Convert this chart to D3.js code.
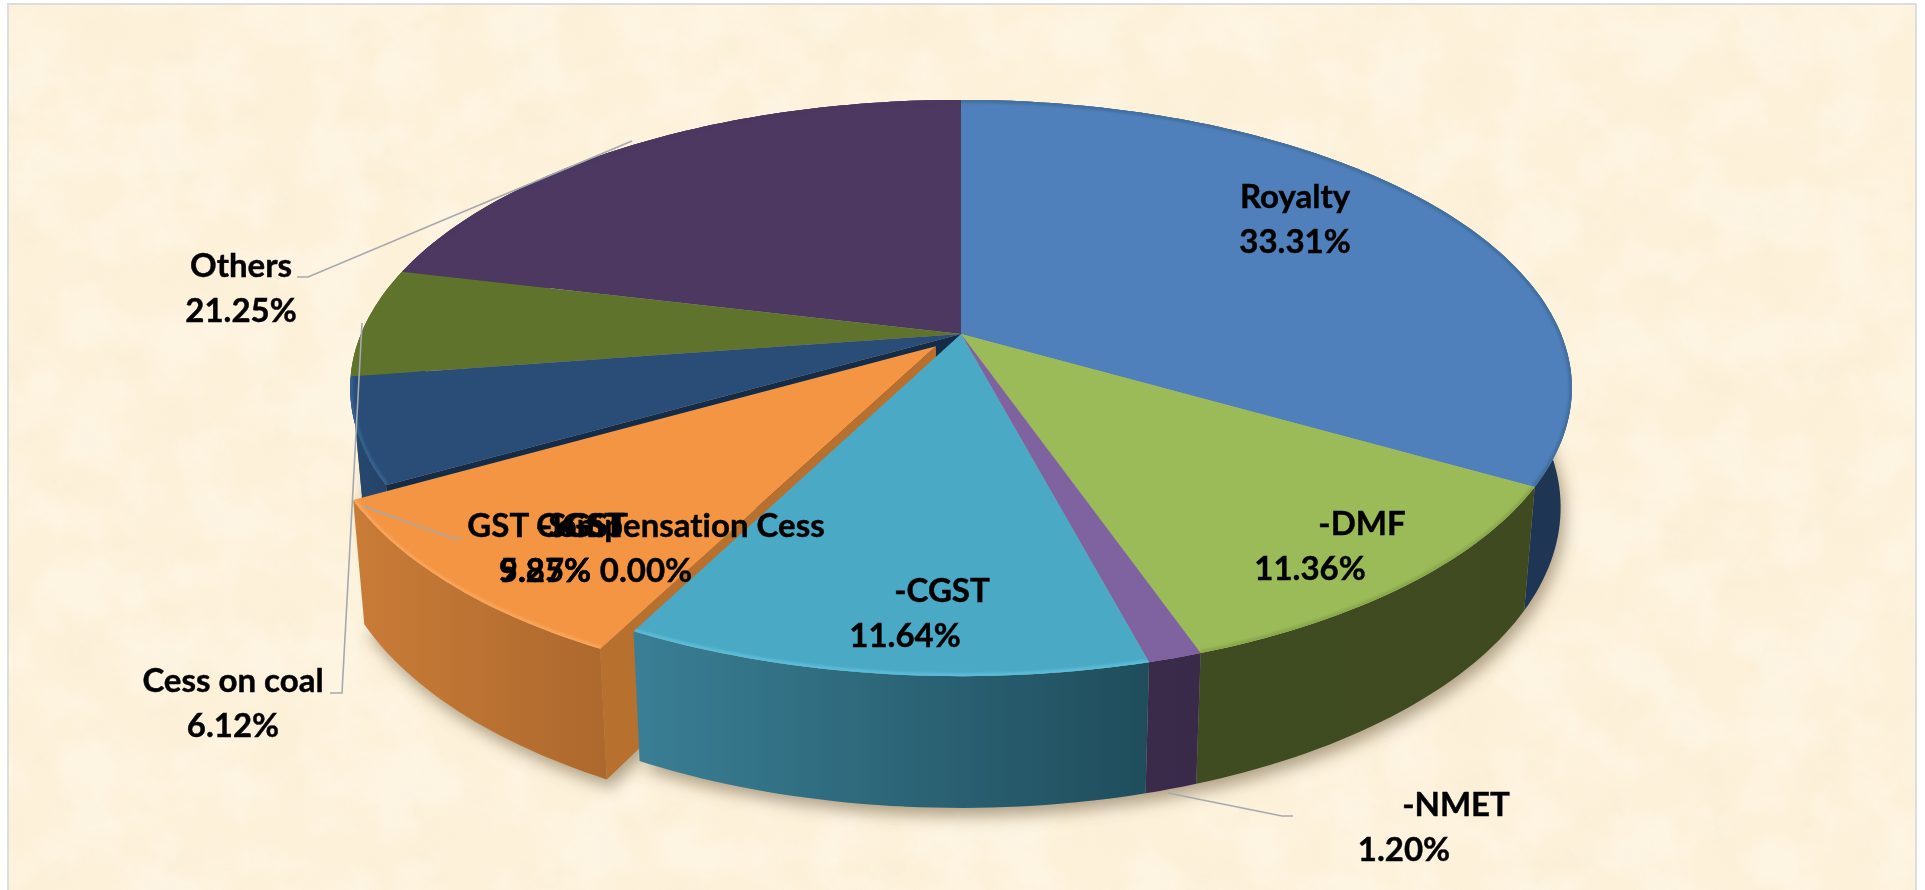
<!DOCTYPE html>
<html><head><meta charset="utf-8">
<script src="https://cdn.jsdelivr.net/npm/d3@7"></script>
<style>html,body{margin:0;padding:0;background:#fff;overflow:hidden}svg{display:block}
text{font-family:Lato,"Open Sans",sans-serif;font-weight:700;fill:#000;stroke:#000;stroke-width:.45px;text-anchor:middle;font-variant-ligatures:none;font-kerning:normal}</style>
</head><body><svg id="c" width="1925" height="890"></svg>
<script>
const categories=["Royalty","-DMF","-NMET","-CGST","-SGST","GST Compensation Cess","-IGST","Cess on coal","Others"];
const shares=[33.31,11.36,1.20,11.64,9.27,0.00,5.85,6.12,21.25];
const shareLabels=["33.31%","11.36%","1.20%","11.64%","9.27%","0.00%","5.85%","6.12%","21.25%"];
const topColors=["#4f80bb","#9bbb59","#7f62a0","#4aa9c4","#f39543","#f39543","#2a4d77","#60732d","#4c3860"];
const wallLeft=["#1f3757","#3f4b21","#3a2b4b","#3a7f95","#c97c37","#c97c37","#27486f","#566829","#3a2b4b"];
const wallRight=["#1e3553","#3f4a20","#392a49","#1f4d5c","#ad682d","#ad682d","#244268","#566829","#3a2b4b"];
const rimColors=["#426f9f","#8aa84c","#7f62a0","#5cbcd8","#f9a45a","#f9a45a","#34608f","#60732d","#4c3860"];
const explode=[0,0,0,0,0.06,0.06,0,0,0];
const paintOrder=[8,7,6,4,0,1,2,3];
const labelCentersX=[1295,1362,1456,942,582,646,582,233,241];
const labelCentersXPct=[1295,1310,1404,905,545,646,545,233,241];
const labelBaselines=[208,535,816,602,537,537,537,692,277];
const labelGap=45;
const leaders=[
 [[1168,793],[1282,816],[1293,816]],
 [[363,506],[452,538],[462,538]],
 [[330,693],[342,693],[362,323]],
 [[297,277],[308,277],[632,141]]
];
const topDisk={x0:961,y0:334,ax:600,ay:278,b:-0.1875};
const baseDisk={x0:961,y0:451,ax:589,ay:290,b:-0.1875};
const TAU=2*Math.PI;
const svg=d3.select("#c");
const defs=svg.append("defs");
function noise(id,freq,seed,matrix){const f=defs.append("filter").attr("id",id).attr("x",0).attr("y",0).attr("width","100%").attr("height","100%");
 f.append("feTurbulence").attr("type","fractalNoise").attr("baseFrequency",freq).attr("numOctaves",4).attr("seed",seed);
 f.append("feColorMatrix").attr("values",matrix);}
noise("tex","0.02",7,"0 0 0 0 0.95  0 0 0 0 0.86  0 0 0 0 0.64  3.4 0 0 0 -1.45");
noise("tex2","0.016",23,"0 0 0 0 1  0 0 0 0 0.98  0 0 0 0 0.93  3.4 0 0 0 -1.4");
defs.append("filter").attr("id","sh").attr("x","-10%").attr("y","-10%").attr("width","120%").attr("height","125%").append("feGaussianBlur").attr("stdDeviation",8);
defs.append("filter").attr("id","soft").attr("x","-5%").attr("y","-5%").attr("width","110%").attr("height","110%").append("feGaussianBlur").attr("stdDeviation",1.3);
svg.append("rect").attr("width",1925).attr("height",890).attr("fill","#fff");
svg.append("rect").attr("x",8).attr("y",4).attr("width",1908).attr("height",890).attr("fill","#fdf1da").attr("stroke","#dcdde0").attr("stroke-width",2);
svg.append("rect").attr("x",9).attr("y",5).attr("width",1906).attr("height",885).attr("filter","url(#tex)").attr("opacity",0.28);
svg.append("rect").attr("x",9).attr("y",5).attr("width",1906).attr("height",885).attr("filter","url(#tex2)").attr("opacity",0.3);

const arcs=d3.pie().sort(null).value(d=>d).startAngle(0).endAngle(TAU)(shares);
const project=(disk,u,v)=>{const den=1+disk.b*v;return [disk.x0+disk.ax*u/den,disk.y0+disk.ay*v/den];};
const line=d3.line();
function offsetOf(i){const a=arcs[i],m=(a.startAngle+a.endAngle)/2;return [explode[i]*Math.sin(m),-explode[i]*Math.cos(m)];}
function ring(disk,i,a0,a1){const [du,dv]=offsetOf(i);const n=Math.max(2,Math.ceil((a1-a0)/0.02));
 return d3.range(n+1).map(k=>{const t=a0+(a1-a0)*k/n;return project(disk,Math.sin(t)+du,-Math.cos(t)+dv);});}
function hub(disk,i){const [du,dv]=offsetOf(i);return project(disk,du,dv);}

const shadow=svg.append("g").attr("filter","url(#sh)").attr("transform","translate(4,8)");
arcs.forEach((a,i)=>{if(a.value>0)shadow.append("path").attr("d",line(ring(baseDisk,i,a.startAngle,a.endAngle).concat([hub(baseDisk,i)]))+"Z").attr("fill","#6e5c3e").attr("opacity",0.55);});

paintOrder.forEach(i=>{
 const a=arcs[i];
 const g=svg.append("g");
 const gid="w"+i;
 const gr=defs.append("linearGradient").attr("id",gid);
 gr.append("stop").attr("offset",0).attr("stop-color",wallLeft[i]);
 gr.append("stop").attr("offset",1).attr("stop-color",wallRight[i]);
 const wall=ring(topDisk,i,a.startAngle,a.endAngle).concat(ring(baseDisk,i,a.startAngle,a.endAngle).reverse());
 if(categories[i]==="-SGST"||categories[i]==="-IGST"){
  const p=[hub(topDisk,i),ring(topDisk,i,a.startAngle,a.startAngle)[0],ring(baseDisk,i,a.startAngle,a.startAngle)[0],hub(baseDisk,i)];
  g.append("path").attr("d",line(p)+"Z").attr("fill",categories[i]==="-SGST"?"#b8702f":"#152c48");
 }
 g.append("path").attr("d",line(wall)+"Z").attr("fill","url(#"+gid+")");
 const rim=ring(topDisk,i,a.startAngle,a.endAngle);
 const face=line([hub(topDisk,i)].concat(rim))+"Z";
 g.append("path").attr("d",face).attr("fill",topColors[i]);
 const cid="cl"+i;
 defs.append("clipPath").attr("id",cid).append("path").attr("d",face);
 g.append("g").attr("clip-path","url(#"+cid+")").append("path").attr("d",line(rim)).attr("fill","none").attr("stroke",rimColors[i]).attr("stroke-width",6).attr("filter","url(#soft)");
});

svg.append("g").selectAll("path").data(leaders).join("path").attr("d",d=>line(d)).attr("fill","none").attr("stroke","#a6a9ad").attr("stroke-width",1.6);

const labels=svg.append("g");
[5,4,6,0,1,2,3,7,8].forEach(i=>{
 labels.append("text").attr("x",labelCentersX[i]).attr("y",labelBaselines[i]).attr("font-size",33).text(categories[i]);
 labels.append("text").attr("x",labelCentersXPct[i]).attr("y",labelBaselines[i]+labelGap).attr("font-size",33).text(shareLabels[i]);
});
</script></body></html>
